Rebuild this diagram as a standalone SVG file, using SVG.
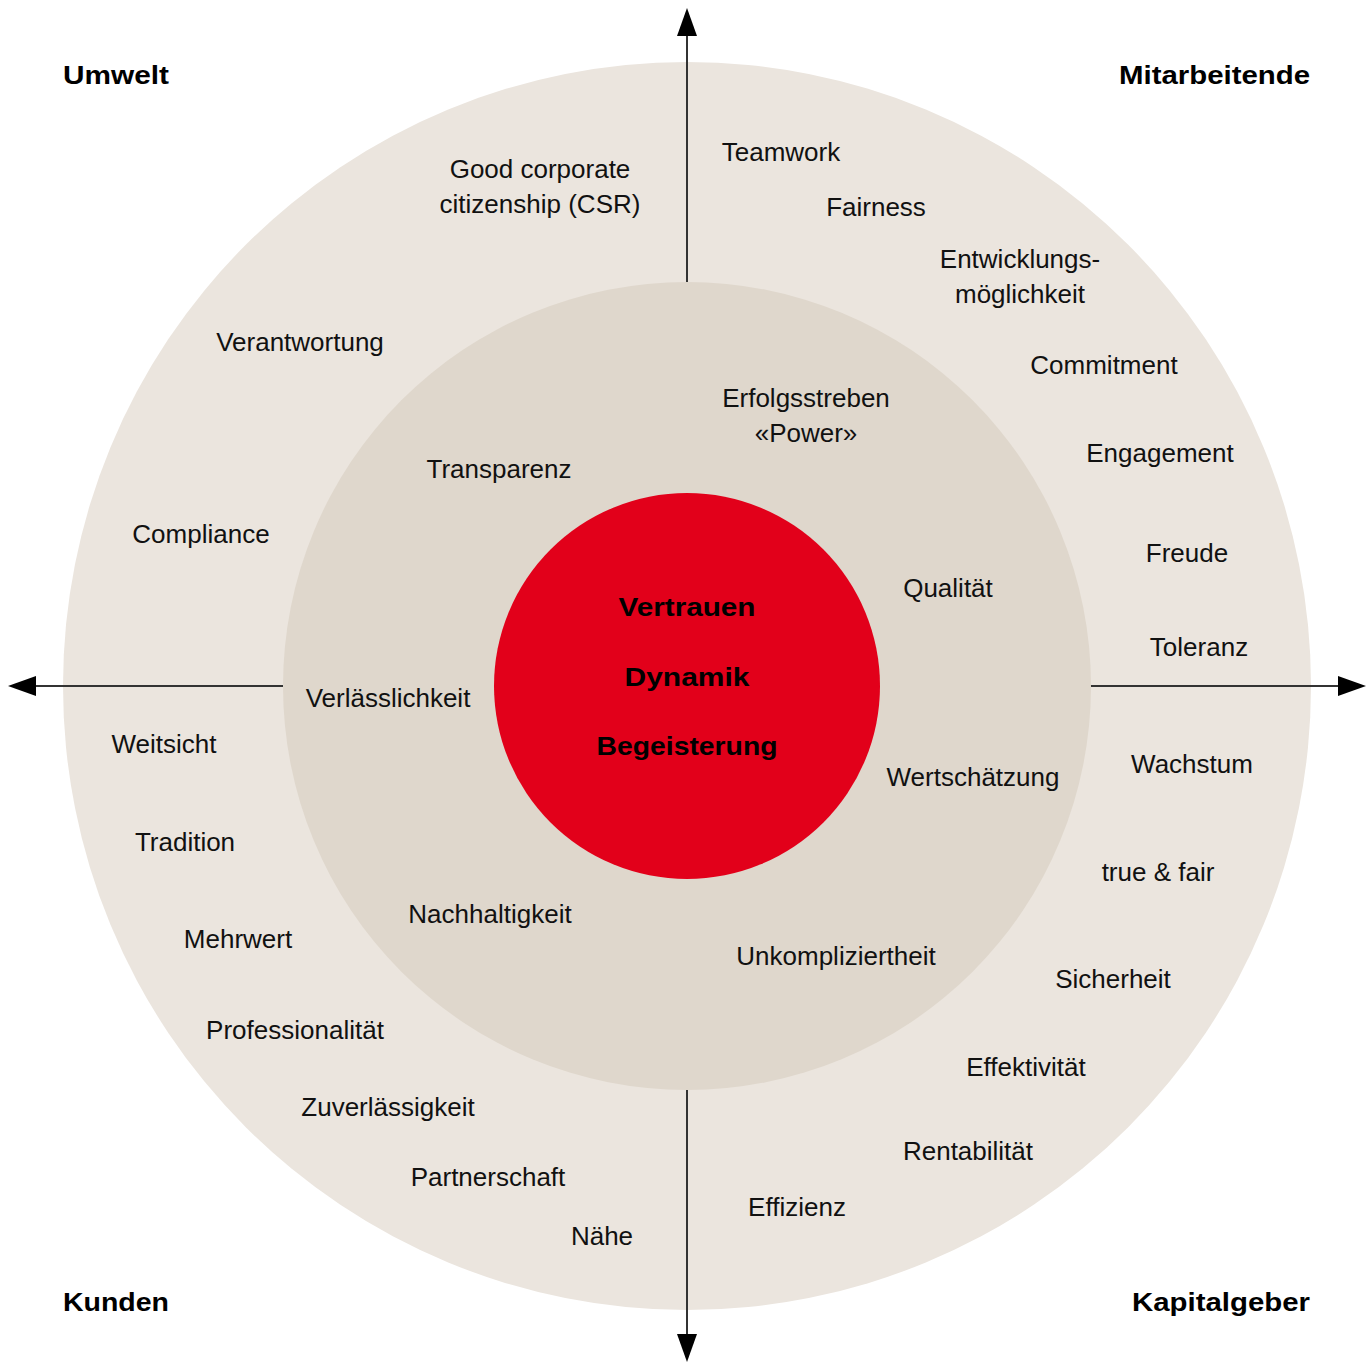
<svg xmlns="http://www.w3.org/2000/svg" width="1370" height="1362" viewBox="0 0 1370 1362">
<defs>
<style>
.t{font-family:"Liberation Sans",Arial,sans-serif;font-size:26px;fill:#111;text-anchor:middle}
.h{font-family:"Liberation Sans",Arial,sans-serif;font-size:26px;font-weight:bold;fill:#000}
.c{font-family:"Liberation Sans",Arial,sans-serif;font-size:26px;font-weight:bold;fill:#000;text-anchor:middle}
.ax{stroke:#333;stroke-width:2;fill:none}
.head{fill:#000}
</style>
</defs>
<rect width="1370" height="1362" fill="#fff"/>
<g id="outer-ring"><circle cx="687" cy="686" r="624" fill="#ebe5de"/></g>
<g id="connectors">
<line class="ax" x1="687" y1="686" x2="687" y2="36"/>
<polygon class="head" points="687,8 677,36 697,36"/>
<line class="ax" x1="687" y1="686" x2="687" y2="1334"/>
<polygon class="head" points="687,1362 677,1334 697,1334"/>
<line class="ax" x1="687" y1="686" x2="36" y2="686"/>
<polygon class="head" points="8,686 36,676 36,696"/>
<line class="ax" x1="687" y1="686" x2="1338" y2="686"/>
<polygon class="head" points="1366,686 1338,676 1338,696"/>
</g>
<g id="middle-ring"><circle cx="687" cy="686" r="404" fill="#dfd7cc"/></g>
<g id="core"><circle cx="687" cy="686" r="193" fill="#e2001a"/></g>

<g id="quadrant-labels">
<text class="h" x="63" y="84" textLength="106" lengthAdjust="spacingAndGlyphs">Umwelt</text>
<text class="h" x="1119" y="84" textLength="191" lengthAdjust="spacingAndGlyphs">Mitarbeitende</text>
<text class="h" x="63" y="1311" textLength="106" lengthAdjust="spacingAndGlyphs">Kunden</text>
<text class="h" x="1132" y="1311" textLength="178" lengthAdjust="spacingAndGlyphs">Kapitalgeber</text>
</g>

<g id="core-labels">
<text class="c" x="687" y="616" textLength="137" lengthAdjust="spacingAndGlyphs">Vertrauen</text>
<text class="c" x="687" y="686" textLength="125" lengthAdjust="spacingAndGlyphs">Dynamik</text>
<text class="c" x="687" y="755" textLength="181" lengthAdjust="spacingAndGlyphs">Begeisterung</text>
</g>

<g id="middle-labels">
<text class="t" x="499" y="478">Transparenz</text>
<text class="t" x="806" y="407">Erfolgsstreben</text>
<text class="t" x="806" y="442">«Power»</text>
<text class="t" x="948" y="597">Qualität</text>
<text class="t" x="388" y="707">Verlässlichkeit</text>
<text class="t" x="973" y="786">Wertschätzung</text>
<text class="t" x="490" y="923">Nachhaltigkeit</text>
<text class="t" x="836" y="965">Unkompliziertheit</text>
</g>

<g id="umwelt-labels">
<text class="t" x="540" y="178">Good corporate</text>
<text class="t" x="540" y="213">citizenship (CSR)</text>
<text class="t" x="300" y="351">Verantwortung</text>
<text class="t" x="201" y="543">Compliance</text>
</g>

<g id="mitarbeitende-labels">
<text class="t" x="781" y="161">Teamwork</text>
<text class="t" x="876" y="216">Fairness</text>
<text class="t" x="1020" y="268">Entwicklungs-</text>
<text class="t" x="1020" y="303">möglichkeit</text>
<text class="t" x="1104" y="374">Commitment</text>
<text class="t" x="1160" y="462">Engagement</text>
<text class="t" x="1187" y="562">Freude</text>
<text class="t" x="1199" y="656">Toleranz</text>
</g>

<g id="kunden-labels">
<text class="t" x="164" y="753">Weitsicht</text>
<text class="t" x="185" y="851">Tradition</text>
<text class="t" x="238" y="948">Mehrwert</text>
<text class="t" x="295" y="1039">Professionalität</text>
<text class="t" x="388" y="1116">Zuverlässigkeit</text>
<text class="t" x="488" y="1186">Partnerschaft</text>
<text class="t" x="602" y="1245">Nähe</text>
</g>

<g id="kapitalgeber-labels">
<text class="t" x="1192" y="773">Wachstum</text>
<text class="t" x="1158" y="881">true &amp; fair</text>
<text class="t" x="1113" y="988">Sicherheit</text>
<text class="t" x="1026" y="1076">Effektivität</text>
<text class="t" x="968" y="1160">Rentabilität</text>
<text class="t" x="797" y="1216">Effizienz</text>
</g>
</svg>
